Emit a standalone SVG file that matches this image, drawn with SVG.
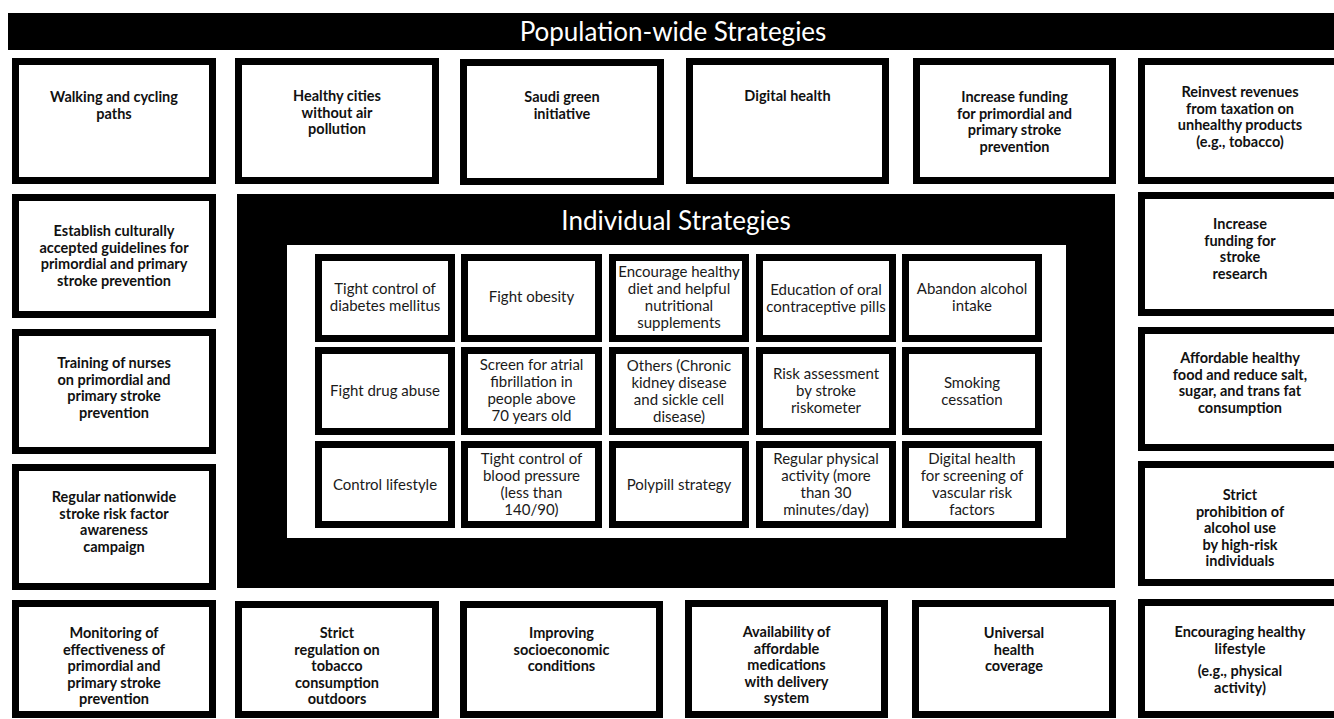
<svg xmlns="http://www.w3.org/2000/svg" width="1334" height="719" viewBox="0 0 1334 719">
  <style>
    .box { fill: #fff; stroke: #000; stroke-width: 7; }
    .panel { fill: #000; }
    .inner { fill: #fff; }
    .t { font-family: Lato, "Liberation Sans", sans-serif; font-weight: bold; font-size: 14.5px; fill: #111; text-anchor: middle; }
    .it { font-family: Lato, "Liberation Sans", sans-serif; font-size: 15px; fill: #1a1a1a; text-anchor: middle; }
    .title { font-family: Lato, "Liberation Sans", sans-serif; font-size: 26px; fill: #fff; text-anchor: middle; }
  </style>
  <rect width="1334" height="719" fill="#fff"/>

  <!-- Population-wide banner -->
  <g id="banner">
    <rect class="panel" x="8" y="13" width="1326" height="37"/>
    <text class="title" x="673" y="41">Population-wide Strategies</text>
  </g>

  <!-- Top row of population-wide strategies -->
  <g id="walking">
    <rect class="box" x="15.5" y="61.5" width="197" height="119"/>
    <text class="t" x="114" y="102"><tspan x="114">Walking and cycling</tspan><tspan x="114" dy="16.5">paths</tspan></text>
  </g>
  <g id="healthy-cities">
    <rect class="box" x="238.5" y="61.5" width="197" height="119"/>
    <text class="t" x="337" y="101"><tspan x="337">Healthy cities</tspan><tspan x="337" dy="16.5">without air</tspan><tspan x="337" dy="16.5">pollution</tspan></text>
  </g>
  <g id="saudi-green">
    <rect class="box" x="463.5" y="62.5" width="197" height="119"/>
    <text class="t" x="562" y="102"><tspan x="562">Saudi green</tspan><tspan x="562" dy="16.5">initiative</tspan></text>
  </g>
  <g id="digital-health">
    <rect class="box" x="689.5" y="61.5" width="196" height="119"/>
    <text class="t" x="787.5" y="101">Digital health</text>
  </g>
  <g id="increase-funding-prevention">
    <rect class="box" x="916.5" y="61.5" width="196" height="119"/>
    <text class="t" x="1014.5" y="102"><tspan x="1014.5">Increase funding</tspan><tspan x="1014.5" dy="16.5">for primordial and</tspan><tspan x="1014.5" dy="16.5">primary stroke</tspan><tspan x="1014.5" dy="16.5">prevention</tspan></text>
  </g>
  <g id="reinvest-revenues">
    <rect class="box" x="1141.5" y="61.5" width="197" height="119"/>
    <text class="t" x="1240" y="97"><tspan x="1240">Reinvest revenues</tspan><tspan x="1240" dy="16.5">from taxation on</tspan><tspan x="1240" dy="16.5">unhealthy products</tspan><tspan x="1240" dy="16.5">(e.g., tobacco)</tspan></text>
  </g>

  <!-- Left column -->
  <g id="guidelines">
    <rect class="box" x="15.5" y="197.5" width="197" height="117"/>
    <text class="t" x="114" y="236"><tspan x="114">Establish culturally</tspan><tspan x="114" dy="16.5">accepted guidelines for</tspan><tspan x="114" dy="16.5">primordial and primary</tspan><tspan x="114" dy="16.5">stroke prevention</tspan></text>
  </g>
  <g id="nurse-training">
    <rect class="box" x="15.5" y="332.5" width="197" height="118"/>
    <text class="t" x="114" y="368"><tspan x="114">Training of nurses</tspan><tspan x="114" dy="16.5">on primordial and</tspan><tspan x="114" dy="16.5">primary stroke</tspan><tspan x="114" dy="16.5">prevention</tspan></text>
  </g>
  <g id="awareness-campaign">
    <rect class="box" x="15.5" y="467.5" width="197" height="119"/>
    <text class="t" x="114" y="502"><tspan x="114">Regular nationwide</tspan><tspan x="114" dy="16.5">stroke risk factor</tspan><tspan x="114" dy="16.5">awareness</tspan><tspan x="114" dy="16.5">campaign</tspan></text>
  </g>

  <!-- Right column -->
  <g id="research-funding">
    <rect class="box" x="1141.5" y="195.5" width="197" height="117"/>
    <text class="t" x="1240" y="229"><tspan x="1240">Increase</tspan><tspan x="1240" dy="16.5">funding for</tspan><tspan x="1240" dy="16.5">stroke</tspan><tspan x="1240" dy="16.5">research</tspan></text>
  </g>
  <g id="affordable-food">
    <rect class="box" x="1141.5" y="330.5" width="197" height="117"/>
    <text class="t" x="1240" y="363"><tspan x="1240">Affordable healthy</tspan><tspan x="1240" dy="16.5">food and reduce salt,</tspan><tspan x="1240" dy="16.5">sugar, and trans fat</tspan><tspan x="1240" dy="16.5">consumption</tspan></text>
  </g>
  <g id="alcohol-prohibition">
    <rect class="box" x="1141.5" y="464.5" width="197" height="118"/>
    <text class="t" x="1240" y="500"><tspan x="1240">Strict</tspan><tspan x="1240" dy="16.5">prohibition of</tspan><tspan x="1240" dy="16.5">alcohol use</tspan><tspan x="1240" dy="16.5">by high-risk</tspan><tspan x="1240" dy="16.5">individuals</tspan></text>
  </g>

  <!-- Bottom row -->
  <g id="monitoring">
    <rect class="box" x="15.5" y="603.5" width="197" height="111"/>
    <text class="t" x="114" y="638"><tspan x="114">Monitoring of</tspan><tspan x="114" dy="16.5">effectiveness of</tspan><tspan x="114" dy="16.5">primordial and</tspan><tspan x="114" dy="16.5">primary stroke</tspan><tspan x="114" dy="16.5">prevention</tspan></text>
  </g>
  <g id="tobacco-regulation">
    <rect class="box" x="238.5" y="604.5" width="197" height="110"/>
    <text class="t" x="337" y="638"><tspan x="337">Strict</tspan><tspan x="337" dy="16.5">regulation on</tspan><tspan x="337" dy="16.5">tobacco</tspan><tspan x="337" dy="16.5">consumption</tspan><tspan x="337" dy="16.5">outdoors</tspan></text>
  </g>
  <g id="socioeconomic">
    <rect class="box" x="463.5" y="604.5" width="196" height="110"/>
    <text class="t" x="561.5" y="638"><tspan x="561.5">Improving</tspan><tspan x="561.5" dy="16.5">socioeconomic</tspan><tspan x="561.5" dy="16.5">conditions</tspan></text>
  </g>
  <g id="affordable-medications">
    <rect class="box" x="688.5" y="603.5" width="196" height="111"/>
    <text class="t" x="786.5" y="637"><tspan x="786.5">Availability of</tspan><tspan x="786.5" dy="16.5">affordable</tspan><tspan x="786.5" dy="16.5">medications</tspan><tspan x="786.5" dy="16.5">with delivery</tspan><tspan x="786.5" dy="16.5">system</tspan></text>
  </g>
  <g id="universal-coverage">
    <rect class="box" x="915.5" y="603.5" width="197" height="111"/>
    <text class="t" x="1014" y="638"><tspan x="1014">Universal</tspan><tspan x="1014" dy="16.5">health</tspan><tspan x="1014" dy="16.5">coverage</tspan></text>
  </g>
  <g id="healthy-lifestyle">
    <rect class="box" x="1141.5" y="602.5" width="197" height="112"/>
    <text class="t" x="1240" y="637"><tspan x="1240">Encouraging healthy</tspan><tspan x="1240" dy="16.5">lifestyle</tspan><tspan x="1240" dy="22.5">(e.g., physical</tspan><tspan x="1240" dy="16.5">activity)</tspan></text>
  </g>

  <!-- Individual strategies panel -->
  <g id="individual-panel">
    <rect class="panel" x="237" y="194" width="878" height="394"/>
    <text class="title" x="676" y="230">Individual Strategies</text>
    <rect class="inner" x="287" y="245" width="779" height="293"/>
  </g>

  <!-- Row 1 -->
  <g id="diabetes">
    <rect class="box" x="318.5" y="257.5" width="133" height="81"/>
    <text class="it" x="385" y="294"><tspan x="385">Tight control of</tspan><tspan x="385" dy="17">diabetes mellitus</tspan></text>
  </g>
  <g id="obesity">
    <rect class="box" x="464.5" y="257.5" width="134" height="81"/>
    <text class="it" x="531.5" y="302">Fight obesity</text>
  </g>
  <g id="diet">
    <rect class="box" x="612.5" y="257.5" width="133" height="81"/>
    <text class="it" x="679" y="277"><tspan x="679">Encourage healthy</tspan><tspan x="679" dy="17">diet and helpful</tspan><tspan x="679" dy="17">nutritional</tspan><tspan x="679" dy="17">supplements</tspan></text>
  </g>
  <g id="contraceptives">
    <rect class="box" x="759.5" y="257.5" width="133" height="81"/>
    <text class="it" x="826" y="295"><tspan x="826">Education of oral</tspan><tspan x="826" dy="17">contraceptive pills</tspan></text>
  </g>
  <g id="alcohol">
    <rect class="box" x="905.5" y="257.5" width="133" height="81"/>
    <text class="it" x="972" y="294"><tspan x="972">Abandon alcohol</tspan><tspan x="972" dy="17">intake</tspan></text>
  </g>

  <!-- Row 2 -->
  <g id="drug-abuse">
    <rect class="box" x="318.5" y="350.5" width="133" height="81"/>
    <text class="it" x="385" y="396">Fight drug abuse</text>
  </g>
  <g id="atrial-fibrillation">
    <rect class="box" x="464.5" y="350.5" width="134" height="81"/>
    <text class="it" x="531.5" y="370"><tspan x="531.5">Screen for atrial</tspan><tspan x="531.5" dy="17">fibrillation in</tspan><tspan x="531.5" dy="17">people above</tspan><tspan x="531.5" dy="17">70 years old</tspan></text>
  </g>
  <g id="others">
    <rect class="box" x="612.5" y="350.5" width="133" height="81"/>
    <text class="it" x="679" y="371"><tspan x="679">Others (Chronic</tspan><tspan x="679" dy="17">kidney disease</tspan><tspan x="679" dy="17">and sickle cell</tspan><tspan x="679" dy="17">disease)</tspan></text>
  </g>
  <g id="riskometer">
    <rect class="box" x="759.5" y="350.5" width="133" height="81"/>
    <text class="it" x="826" y="379"><tspan x="826">Risk assessment</tspan><tspan x="826" dy="17">by stroke</tspan><tspan x="826" dy="17">riskometer</tspan></text>
  </g>
  <g id="smoking">
    <rect class="box" x="905.5" y="350.5" width="133" height="81"/>
    <text class="it" x="972" y="388"><tspan x="972">Smoking</tspan><tspan x="972" dy="17">cessation</tspan></text>
  </g>

  <!-- Row 3 -->
  <g id="lifestyle">
    <rect class="box" x="318.5" y="444.5" width="133" height="80"/>
    <text class="it" x="385" y="490">Control lifestyle</text>
  </g>
  <g id="blood-pressure">
    <rect class="box" x="464.5" y="444.5" width="134" height="80"/>
    <text class="it" x="531.5" y="464"><tspan x="531.5">Tight control of</tspan><tspan x="531.5" dy="17">blood pressure</tspan><tspan x="531.5" dy="17">(less than</tspan><tspan x="531.5" dy="17">140/90)</tspan></text>
  </g>
  <g id="polypill">
    <rect class="box" x="612.5" y="444.5" width="133" height="80"/>
    <text class="it" x="679" y="490">Polypill strategy</text>
  </g>
  <g id="physical-activity">
    <rect class="box" x="759.5" y="444.5" width="133" height="80"/>
    <text class="it" x="826" y="464"><tspan x="826">Regular physical</tspan><tspan x="826" dy="17">activity (more</tspan><tspan x="826" dy="17">than 30</tspan><tspan x="826" dy="17">minutes/day)</tspan></text>
  </g>
  <g id="digital-screening">
    <rect class="box" x="905.5" y="444.5" width="133" height="80"/>
    <text class="it" x="972" y="464"><tspan x="972">Digital health</tspan><tspan x="972" dy="17">for screening of</tspan><tspan x="972" dy="17">vascular risk</tspan><tspan x="972" dy="17">factors</tspan></text>
  </g>
</svg>
